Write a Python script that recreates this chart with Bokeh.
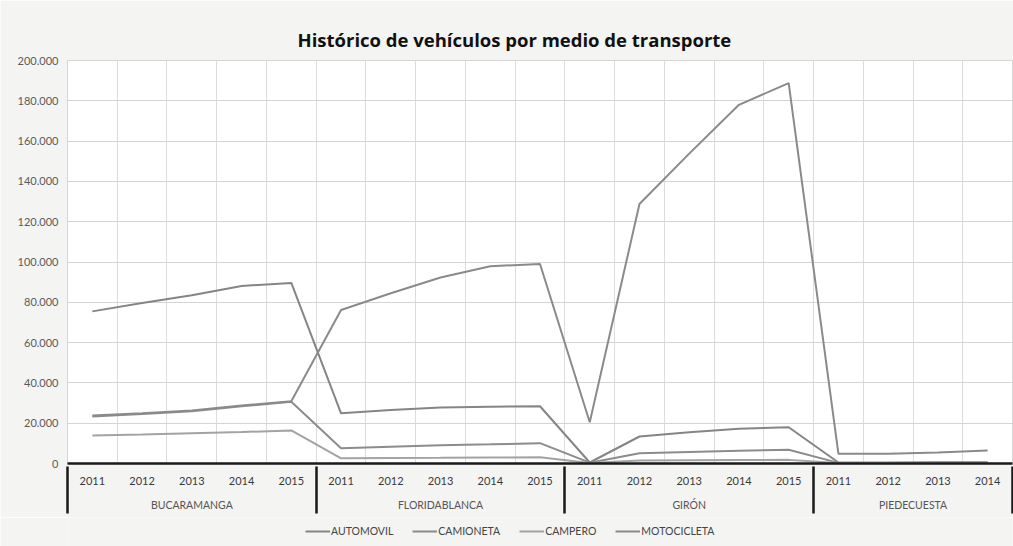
from bokeh.plotting import figure
from bokeh.layouts import column
from bokeh.models import FixedTicker, LinearAxis, Legend, LegendItem, Range1d
from bokeh.embed import file_html
from bokeh.resources import INLINE

# ---------------- data ----------------
groups = ["BUCARAMANGA", "FLORIDABLANCA", "GIRÓN", "PIEDECUESTA"]
group_years = [
    ["2011", "2012", "2013", "2014", "2015"],
    ["2011", "2012", "2013", "2014", "2015"],
    ["2011", "2012", "2013", "2014", "2015"],
    ["2011", "2012", "2013", "2014"],
]
series_names = ["AUTOMOVIL", "CAMIONETA", "CAMPERO", "MOTOCICLETA"]

automovil = [75500, 79600, 83500, 88100, 89600,
             24900, 26500, 27800, 28200, 28400,
             500, 13400, 15500, 17200, 18000,
             500, 500, 600, 600]
camioneta = [23300, 24600, 25900, 28400, 30600,
             7600, 8300, 9000, 9500, 10100,
             400, 5100, 5700, 6300, 6800,
             300, 300, 400, 400]
campero = [13900, 14400, 15000, 15600, 16400,
           2600, 2700, 2800, 3000, 3100,
           200, 1500, 1600, 1700, 1800,
           200, 200, 200, 200]
motocicleta = [23800, 25000, 26300, 28800, 30900,
               76200, 84500, 92300, 97900, 99000,
               20500, 128800, 153800, 178000, 188800,
               4800, 4900, 5500, 6400]

y_ticks = [0, 20000, 40000, 60000, 80000, 100000, 120000, 140000, 160000, 180000, 200000]
y_tick_labels = ["0", "20.000", "40.000", "60.000", "80.000", "100.000",
                 "120.000", "140.000", "160.000", "180.000", "200.000"]

title_text = "Histórico de vehículos por medio de transporte"

# ---------------- derived positions ----------------
year_labels = [y for ys in group_years for y in ys]
x = list(range(len(year_labels)))
starts = []
s = 0
for ys in group_years:
    starts.append(s)
    s += len(ys)
group_bounds = [st - 0.5 for st in starts] + [len(x) - 0.5]
group_centers = [st + (len(ys) - 1) / 2 for st, ys in zip(starts, group_years)]
values = [automovil, camioneta, campero, motocicleta]
colors = ["#858585", "#8c8c8c", "#a3a3a3", "#8a8a8a"]

FONT = "Lato"
BG = "#f4f4f2"
W = 1013

p = figure(width=W, height=517, output_backend="svg", toolbar_location=None,
           x_range=Range1d(-0.5, len(x) - 0.5), y_range=Range1d(0, 200000),
           min_border_left=67, min_border_right=1, min_border_top=60, min_border_bottom=54)
p.background_fill_color = "white"
p.border_fill_color = BG
p.outline_line_color = "#d6d6d6"

p.title.text = title_text
p.title.text_font = "Open Sans"
p.title.text_font_size = "18.5px"
p.title.text_font_style = "bold"
p.title.text_color = "#111111"
p.title.align = "left"
p.title.offset = 230
p.title.standoff = 18

# y axis
p.yaxis.ticker = FixedTicker(ticks=y_ticks)
p.yaxis.major_label_overrides = {t: l for t, l in zip(y_ticks, y_tick_labels)}
p.yaxis.axis_line_color = None
p.yaxis.major_tick_line_color = None
p.yaxis.minor_tick_line_color = None
p.yaxis.major_tick_out = 0
p.yaxis.major_tick_in = 0
p.yaxis.minor_tick_out = 0
p.yaxis.major_label_text_font = FONT
p.yaxis.major_label_text_font_size = "11px"
p.yaxis.major_label_text_color = "#5a5a5a"
p.yaxis.major_label_standoff = 9

# x axis: years
xa = p.xaxis[0]
xa.ticker = FixedTicker(ticks=x)
xa.major_label_overrides = {i: l for i, l in zip(x, year_labels)}
xa.major_tick_line_color = None
xa.minor_tick_line_color = None
xa.major_tick_out = 0
xa.major_tick_in = 0
xa.minor_tick_out = 0
xa.minor_tick_in = 0
xa.axis_line_color = "#1a1a1a"
xa.axis_line_width = 2.5
xa.major_label_text_font = FONT
xa.major_label_text_font_size = "11px"
xa.major_label_text_color = "#3a3a3a"
xa.major_label_standoff = 13

# group labels axis
ga = LinearAxis(ticker=FixedTicker(ticks=group_centers))
ga.major_label_overrides = {c: g for c, g in zip(group_centers, groups)}
ga.axis_line_color = None
ga.major_tick_line_color = None
ga.minor_tick_line_color = None
ga.major_tick_out = 0
ga.major_tick_in = 0
ga.minor_tick_out = 0
ga.minor_tick_in = 0
ga.major_label_text_font = FONT
ga.major_label_text_font_size = "10.5px"
ga.major_label_text_color = "#555555"
ga.major_label_standoff = 11
p.add_layout(ga, "below")

# group separators axis (ticks pointing up to the main axis line)
sa = LinearAxis(ticker=FixedTicker(ticks=group_bounds))
sa.major_label_overrides = {b: "" for b in group_bounds}
sa.major_label_text_font_size = "1px"
sa.major_label_standoff = 0
sa.axis_line_color = None
sa.minor_tick_line_color = None
sa.major_tick_out = 0
sa.major_tick_in = 47
sa.minor_tick_out = 0
sa.minor_tick_in = 0
sa.major_tick_line_color = "#1a1a1a"
sa.major_tick_line_width = 2.5
p.add_layout(sa, "below")

# grids
p.xgrid.ticker = FixedTicker(ticks=[i - 0.5 for i in range(len(x) + 1)])
p.xgrid.grid_line_color = "#dcdcdc"
p.ygrid.ticker = FixedTicker(ticks=y_ticks)
p.ygrid.grid_line_color = "#d4d4d4"

# lines
for vals, c in zip(values, colors):
    p.line(x, vals, line_color=c, line_width=2)

# legend strip below the chart (its lines lie outside its own view; only the legend shows)
lp = figure(width=W, height=29, output_backend="svg", toolbar_location=None,
            x_axis_location=None, y_axis_location=None,
            x_range=Range1d(0, 1), y_range=Range1d(-2, -1),
            min_border_left=0, min_border_right=0, min_border_top=0, min_border_bottom=0)
lp.grid.visible = False
lp.outline_line_color = None
lp.background_fill_color = BG
lp.border_fill_color = BG
leg_renderers = [lp.line(x, vals, line_color=c, line_width=2) for vals, c in zip(values, colors)]
legend = Legend(items=[LegendItem(label=n, renderers=[r]) for n, r in zip(series_names, leg_renderers)],
                orientation="horizontal", location=(238, 9))
legend.label_text_font = FONT
legend.label_text_font_size = "10.5px"
legend.label_text_color = "#444444"
legend.glyph_width = 25
legend.glyph_height = 12
legend.label_standoff = 1
legend.spacing = 19
legend.padding = 2
legend.margin = 0
legend.border_line_color = None
legend.background_fill_alpha = 0
lp.add_layout(legend, "center")

page = column(p, lp, spacing=0)
open("out.html", "w").write(file_html(page, INLINE))
